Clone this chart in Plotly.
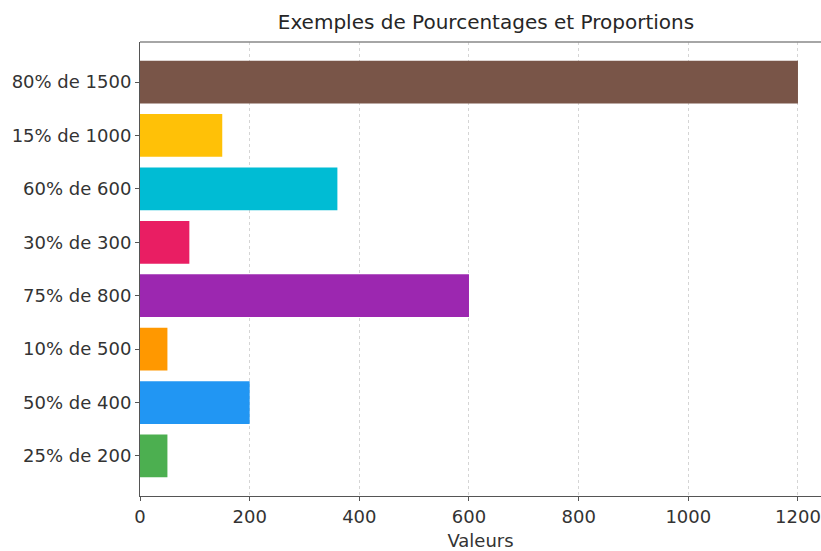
import plotly.graph_objects as go

categories = ["25% de 200", "50% de 400", "10% de 500", "75% de 800",
              "30% de 300", "60% de 600", "15% de 1000", "80% de 1500"]
values = [50, 200, 50, 600, 90, 360, 150, 1200]
colors = ["#4CAF50", "#2196F3", "#FF9800", "#9C27B0",
          "#E91E63", "#00BCD4", "#FFC107", "#795548"]
x_ticks = [0, 200, 400, 600, 800, 1000, 1200]

fig = go.Figure(go.Bar(
    y=categories, x=values, orientation="h",
    marker=dict(color=colors, line=dict(width=0)),
    width=0.8,
))

font_family = "'DejaVu Sans', sans-serif"
W, H = 821, 551
fig.update_layout(
    width=W, height=H,
    margin=dict(l=140, r=0, t=42, b=55),
    paper_bgcolor="white", plot_bgcolor="white",
    title=dict(text="Exemples de Pourcentages et Proportions", x=0.508, xref="paper",
               xanchor="center", y=1 - 22/H, yanchor="middle",
               font=dict(family=font_family, size=20, color="#262626")),
    font=dict(family=font_family, size=17, color="#333333"),
    showlegend=False,
    bargap=0.2,
)
fig.update_xaxes(
    range=[0, 1242], tickvals=x_ticks, ticktext=[str(v) for v in x_ticks],
    showgrid=True, gridcolor="#d5d5d5", griddash="dot", gridwidth=1,
    showline=True, linecolor="#555555", linewidth=1, mirror=False,
    ticks="outside", ticklen=4, tickcolor="#555555",
    tickfont=dict(size=18), automargin=False,
    title=dict(text="Valeurs", font=dict(size=18, color="#333333"), standoff=16),
    zeroline=False,
)
fig.update_yaxes(
    range=[-0.75, 7.75], categoryorder="array", categoryarray=categories,
    showline=True, linecolor="#555555", linewidth=1,
    ticks="outside", ticklen=4, tickcolor="#555555",
    tickfont=dict(size=18),
    showgrid=False, zeroline=False,
)
# top border line
fig.add_shape(type="line", xref="paper", yref="paper", x0=0, x1=1, y0=1, y1=1,
              line=dict(color="#888888", width=1.5))

fig.write_html("out.html", config={"displayModeBar": False},
               post_script="document.body.style.margin='0';document.body.style.overflow='hidden';")
